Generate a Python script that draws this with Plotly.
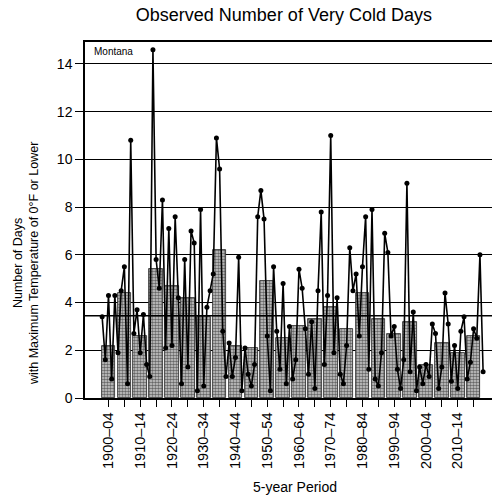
import plotly.graph_objects as go

# Annual number of very cold days (Montana), 1900-2020
years = list(range(1900, 2021))
annual_days = [
    3.4, 1.6, 4.3, 0.8, 4.3, 1.9, 4.5, 5.5, 0.6, 10.8,   # 1900-1909
    2.7, 3.7, 1.9, 3.5, 1.4, 0.9, 14.6, 5.8, 4.6, 8.3,   # 1910-1919
    2.1, 7.1, 2.2, 7.6, 4.2, 0.6, 5.8, 1.3, 7.0, 6.5,    # 1920-1929
    0.3, 7.9, 0.5, 3.8, 4.5, 5.2, 10.9, 9.6, 2.8, 0.9,   # 1930-1939
    2.3, 0.9, 1.7, 5.9, 0.3, 2.1, 1.0, 0.5, 1.4, 7.6,    # 1940-1949
    8.7, 7.5, 2.6, 0.3, 5.5, 2.8, 1.2, 4.8, 0.6, 3.0,    # 1950-1959
    0.8, 1.6, 5.4, 4.6, 2.9, 1.0, 3.2, 0.4, 4.5, 7.8,    # 1960-1969
    1.4, 4.3, 11.0, 1.9, 4.2, 1.0, 0.6, 2.2, 6.3, 4.5,   # 1970-1979
    5.2, 2.6, 5.5, 7.6, 1.2, 7.9, 0.8, 0.5, 1.9, 6.9,    # 1980-1989
    6.1, 2.6, 3.0, 1.2, 0.4, 1.6, 9.0, 1.1, 3.6, 0.3,    # 1990-1999
    1.3, 0.6, 1.4, 0.9, 3.1, 2.7, 0.4, 1.3, 4.4, 3.1,    # 2000-2009
    0.7, 2.2, 0.4, 2.8, 3.4, 0.8, 1.5, 2.9, 2.5, 6.0,    # 2010-2019
    1.1,                                                 # 2020
]

# 5-year period averages (bars), centred on each period
period_centers = list(range(1902, 2020, 5))
period_avgs = [
    2.2, 4.4, 2.6, 5.4, 4.7, 4.2, 3.4, 6.2, 2.2, 2.1, 4.9, 2.5,
    3.0, 3.3, 3.8, 2.9, 4.4, 3.3, 2.7, 3.2, 1.4, 2.3, 1.9, 2.6,
]

long_term_avg = 3.45

period_starts = list(range(1900, 2018, 5))
tick_vals = period_centers
tick_text = [f"{y}–{str(y + 4)[-2:]}" if y % 10 == 0 else "" for y in period_starts]

y_ticks = [0, 2, 4, 6, 8, 10, 12, 14]

FONT = "Arial, Liberation Sans, Helvetica, sans-serif"

fig = go.Figure()

fig.add_trace(go.Bar(
    x=period_centers, y=period_avgs, width=4.3,
    marker=dict(color="#6e6e6e", line=dict(color="#222222", width=0.8),
                pattern=dict(shape=".", fgcolor="#000000", bgcolor="#cfcfcf",
                             size=3, solidity=0.55)),
    showlegend=False, hoverinfo="skip",
))

fig.add_trace(go.Scatter(
    x=years, y=annual_days, mode="lines+markers",
    line=dict(color="black", width=1.6),
    marker=dict(color="black", size=5),
    showlegend=False,
))

fig.add_trace(go.Scatter(
    x=[1894.6, 2022.8], y=[long_term_avg, long_term_avg], mode="lines",
    line=dict(color="black", width=1.6), showlegend=False, hoverinfo="skip",
))

fig.update_layout(
    width=492, height=495,
    margin=dict(l=85, r=0, t=42, b=97),
    paper_bgcolor="white", plot_bgcolor="white",
    font=dict(family=FONT, color="black"),
    title=dict(text="Observed Number of Very Cold Days", x=0.577, xref="container",
               xanchor="center", y=1 - 15 / 495, yref="container", yanchor="middle",
               font=dict(size=18, family=FONT, color="black")),
    bargap=0,
    xaxis=dict(range=[1894.6, 2022.8], tickvals=tick_vals, ticktext=tick_text,
               tickangle=-90, ticks="outside", ticklen=7, tickcolor="black",
               tickwidth=1.2, showgrid=False, zeroline=False,
               showline=True, linecolor="black", linewidth=1.5, mirror=True,
               tickfont=dict(size=14.5, family=FONT, color="black")),
    yaxis=dict(range=[0, 14.92], tickvals=y_ticks, ticks="outside", ticklen=8,
               tickcolor="black", tickwidth=1.2, showgrid=True, gridcolor="black",
               gridwidth=1, zeroline=False, showline=True, linecolor="black",
               linewidth=1.5, tickfont=dict(size=14, family=FONT, color="black")),
    annotations=[
        dict(text="Montana", xref="paper", yref="paper", x=0.017, y=0.972,
             xanchor="left", yanchor="middle", showarrow=False,
             font=dict(size=10, family=FONT, color="black")),
        dict(text="Number of Days<br>with Maximum Temperature of 0°F or Lower",
             xref="paper", yref="paper", x=-0.145, y=0.379, textangle=-90,
             xanchor="center", yanchor="middle", showarrow=False,
             font=dict(size=12.5, family=FONT, color="black")),
        dict(text="5-year Period", xref="paper", yref="paper", x=0.516, y=-0.25,
             xanchor="center", yanchor="middle", showarrow=False,
             font=dict(size=14, family=FONT, color="black")),
    ],
)

fig.write_html("out.html")
